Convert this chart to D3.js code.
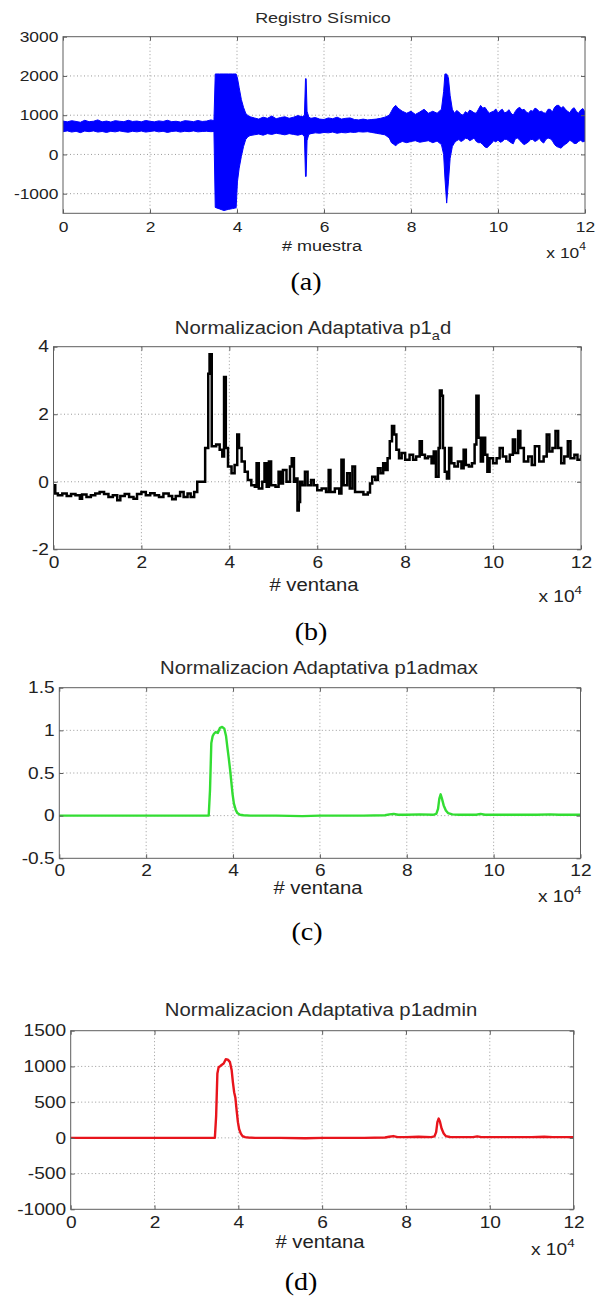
<!DOCTYPE html>
<html><head><meta charset="utf-8">
<script src="https://cdn.jsdelivr.net/npm/d3@7"></script>
<style>body{margin:0;background:#fff} svg{display:block}</style>
</head><body><svg id="c" width="599" height="1299"></svg>
<script>
// ---------- DATA (x in units of 10^4 samples) ----------
const xTicks = [0, 2, 4, 6, 8, 10, 12];
const aYTicks = [-1000, 0, 1000, 2000, 3000];
const bYTicks = [-2, 0, 2, 4];
const cYTicks = [-0.5, 0, 0.5, 1, 1.5];
const dYTicks = [-1000, -500, 0, 500, 1000, 1500];

const titles = ["Registro Sísmico", "Normalizacion Adaptativa p1", "Normalizacion Adaptativa p1admax", "Normalizacion Adaptativa p1admin"];
const xLabels = ["# muestra", "# ventana", "# ventana", "# ventana"];
const captions = ["(a)", "(b)", "(c)", "(d)"];

// (a) seismic record: envelope of the dense oscillation
const aX = [0,0.1,0.2,0.3,0.4,0.5,0.6,0.7,0.8,0.9,1.0,1.1,1.2,1.3,1.4,1.5,1.6,1.7,1.8,1.9,2.0,2.1,2.2,2.3,2.4,2.5,2.6,2.7,2.8,2.9,3.0,3.1,3.2,3.3,3.4,
  3.47,3.5,3.6,3.7,3.8,3.9,3.98,4.01,4.05,4.1,4.15,4.2,4.25,
  4.3,4.4,4.5,4.6,4.7,4.8,4.9,5.0,5.1,5.2,5.3,5.4,5.5,
  5.55,5.575,5.59,5.61,5.65,
  5.7,5.8,5.9,6.0,6.1,6.2,6.3,6.4,6.5,6.6,6.7,6.8,6.9,7.0,7.1,7.2,7.3,7.4,
  7.5,7.55,7.6,7.65,7.7,7.8,7.9,8.0,8.1,8.2,8.3,8.4,8.5,8.6,8.7,
  8.75,8.78,8.82,8.86,8.9,8.95,
  9.0,9.05,9.1,9.15,9.2,9.25,9.3,9.35,9.4,9.45,9.5,9.55,9.6,9.65,9.7,9.75,9.8,9.85,9.9,9.95,
  10.0,10.05,10.1,10.15,10.2,10.25,10.3,10.35,10.4,10.45,10.5,10.55,10.6,10.65,10.7,10.75,10.8,10.85,10.9,10.95,
  11.0,11.05,11.1,11.15,11.2,11.25,11.3,11.35,11.4,11.45,11.5,11.55,11.6,11.65,11.7,11.75,11.8,11.85,11.9,11.95,12.0];
const aHigh = [850,830,860,840,820,870,835,845,880,830,850,825,860,845,835,870,840,850,830,865,845,830,855,840,870,835,845,825,860,850,835,865,840,850,880,
  860,2050,2050,2050,2050,2050,2050,1950,1700,1400,1200,1050,990,
  960,930,900,950,920,980,910,940,960,920,950,990,960,
  1000,1930,1930,1100,950,
  920,940,900,890,930,910,950,900,920,930,890,880,900,880,890,900,920,950,
  1000,1100,1200,1250,1180,1100,1050,1100,1020,1080,1150,1050,1100,1050,1150,
  1600,2050,2050,1950,1500,1150,
  1050,1120,1080,1020,1000,1090,1050,1130,1100,1060,1050,1150,1250,1180,1200,1120,1050,1080,1100,1160,
  1050,1120,1150,1060,1080,1140,1050,1000,1100,1170,1200,1130,1150,1080,1050,1120,1100,1180,1150,1090,
  1100,1060,1050,1150,1150,1080,1200,1250,1250,1180,1220,1150,1100,1060,1150,1190,1100,1050,1130,1170,1080];
const aLow = [580,600,570,590,555,595,580,600,570,585,560,590,575,600,580,565,590,575,595,570,585,600,575,590,560,585,595,570,590,580,600,575,585,590,580,
  585,-1350,-1390,-1430,-1400,-1380,-1360,-700,-350,-50,200,380,450,
  480,500,520,490,530,510,540,520,500,530,510,490,520,
  450,-560,-560,350,510,
  530,550,540,560,550,570,540,560,550,570,560,580,570,580,560,540,520,500,
  420,300,260,220,280,330,300,330,350,310,330,350,300,340,250,
  0,-600,-1240,-700,-100,200,
  300,350,380,330,360,410,400,350,380,420,330,300,300,250,190,170,230,280,350,320,
  370,310,330,390,380,340,300,270,400,420,360,300,250,280,320,380,380,330,360,410,
  330,290,380,420,400,350,250,200,180,160,220,260,300,360,330,280,280,330,360,320,340];

// (b) adaptive normalization p1_a d
const bX = [0,0.04,0.1,0.2,0.3,0.4,0.5,0.6,0.65,0.75,0.85,0.95,1.05,1.15,1.25,1.35,1.45,1.52,1.62,1.72,1.82,1.9,2.0,2.1,2.2,2.3,2.4,2.5,2.62,2.7,2.78,2.88,2.96,3.05,3.12,3.2,
  3.27,3.45,3.52,3.55,3.6,3.7,3.78,3.84,3.88,3.92,3.97,4.05,4.12,4.18,4.22,4.28,4.35,4.42,4.5,4.58,4.62,4.67,4.75,4.8,4.85,4.9,4.95,
  5.05,5.12,5.17,5.22,5.3,5.38,5.42,5.47,5.52,5.55,5.58,5.61,5.66,5.72,5.78,5.86,5.92,6.0,6.1,6.2,6.26,6.3,6.4,6.5,6.55,6.6,6.68,6.74,6.8,6.86,6.95,
  7.05,7.15,7.2,7.25,7.32,7.38,7.44,7.5,7.55,7.6,7.65,7.7,7.75,7.8,7.86,7.92,8.0,8.1,8.18,8.25,8.33,8.38,8.45,8.52,8.6,8.65,8.7,8.76,8.79,8.83,8.86,8.9,8.95,
  9.0,9.05,9.12,9.2,9.28,9.33,9.38,9.45,9.52,9.58,9.62,9.67,9.72,9.77,9.82,9.87,9.92,10.0,10.08,10.15,10.22,10.3,10.38,10.45,10.5,10.57,10.62,10.7,10.8,10.88,10.95,
  11.05,11.15,11.22,11.28,11.35,11.42,11.48,11.55,11.62,11.7,11.76,11.85,11.92,12.0];
const bY = [-0.1,-0.35,-0.4,-0.35,-0.42,-0.36,-0.4,-0.5,-0.38,-0.45,-0.4,-0.35,-0.3,-0.36,-0.45,-0.4,-0.55,-0.42,-0.36,-0.45,-0.5,-0.36,-0.3,-0.4,-0.34,-0.4,-0.45,-0.35,-0.42,-0.52,-0.42,-0.3,-0.45,-0.35,-0.45,-0.3,
  0.0,1.0,3.2,3.78,1.05,1.1,0.95,0.75,3.1,1.0,0.45,0.25,0.5,1.4,1.0,0.6,0.3,0.05,-0.1,-0.15,0.55,-0.2,0.0,0.55,-0.15,0.6,-0.1,
  -0.15,0.3,-0.05,0.35,0.0,0.45,0.7,0.0,0.1,-0.85,-0.6,0.0,-0.1,0.3,-0.1,0.05,-0.1,-0.25,-0.2,-0.3,0.35,-0.3,-0.2,-0.35,0.65,-0.1,0.25,-0.2,0.45,-0.3,-0.3,
  -0.38,-0.32,-0.05,0.15,0.05,0.4,0.25,0.55,0.35,0.7,1.2,1.65,1.4,0.95,0.7,0.85,0.65,0.8,0.65,0.75,1.2,0.8,0.7,0.75,0.55,0.9,0.15,1.0,2.7,2.55,1.0,0.3,0.1,
  1.0,0.55,0.45,0.6,0.4,0.95,0.5,0.45,0.55,1.1,2.55,1.3,0.6,1.3,0.8,0.3,0.7,0.55,0.7,1.0,0.75,0.6,0.8,1.25,0.85,1.5,1.0,0.6,0.75,0.5,1.05,
  0.6,0.75,1.4,0.9,1.0,1.5,1.0,0.55,0.75,1.2,0.7,0.8,0.65,0.8];

// (c) p1admax and (d) p1admin
const cX = [0,1,2,3,3.44,3.47,3.5,3.53,3.56,3.6,3.65,3.7,3.75,3.8,3.84,3.87,3.9,3.93,3.96,3.99,4.02,4.06,4.1,4.16,4.24,4.4,5,5.6,6,7,7.5,7.6,7.7,7.8,8,8.3,8.6,8.68,8.72,8.75,8.78,8.81,8.85,8.9,8.95,9.05,9.2,9.6,9.7,9.8,10.5,11,11.3,11.5,12];
const cY = [0,0,0,0,0,0.3,0.85,0.93,0.96,0.98,0.97,1.03,1.04,1.02,0.93,0.8,0.68,0.55,0.4,0.25,0.14,0.07,0.03,0.01,0.005,0,0,-0.005,0,0,0.005,0.015,0.02,0.01,0.01,0.015,0.01,0.02,0.08,0.2,0.25,0.2,0.12,0.06,0.03,0.015,0.01,0.01,0.02,0.01,0.01,0.01,0.015,0.01,0.01];
const dX = cX;
const dY = [0,0,0,0,0,300,900,990,1000,1020,1040,1100,1095,1060,950,780,640,560,380,220,120,60,25,10,5,0,0,-5,0,0,5,15,25,10,10,15,10,20,80,220,270,230,130,60,25,12,10,10,20,10,10,10,15,10,10];

// ---------- DRAWING ----------
const svg = d3.select("#c");
const SX = 1.16;
const SANS = "'Liberation Sans', Arial, Helvetica, sans-serif";
const SERIF = "'Liberation Serif', 'Times New Roman', serif";
const FRAME = "#5e5e5e";

function label(g, x, y, parts, o) {
  const t = g.append("text")
    .attr("transform", `translate(${x},${y}) scale(${o.sx || SX},1)`)
    .attr("text-anchor", o.anchor || "middle")
    .attr("font-family", o.family || SANS)
    .attr("font-size", o.size)
    .attr("fill", o.fill || "#222");
  parts.forEach(p => {
    const s = t.append("tspan").text(p.t);
    if (p.dy) s.attr("dy", p.dy);
    if (p.size) s.attr("font-size", p.size);
  });
  return t;
}

const panels = [
  {L:63, R:585, T:36.7, B:213.3, yDom:[-1500,3000], yTicks:aYTicks, tick:15, tsize:15.5, titleX:323, titleY:22.5,
   xlX:322, xlY:250.5, expY:257.5, capX:306, capY:290, pad:8},
  {L:53.5, R:581, T:346.7, B:549.3, yDom:[-2,4], yTicks:bYTicks, tick:16.5, tsize:17.5, titleX:313, titleY:334,
   xlX:314, xlY:591, expY:601.5, capX:311, capY:640, pad:7},
  {L:59.3, R:580.5, T:687.7, B:858.3, yDom:[-0.5,1.5], yTicks:cYTicks, tick:16.5, tsize:17.5, titleX:319, titleY:674,
   xlX:318, xlY:893.5, expY:901.5, capX:307, capY:940, pad:6},
  {L:70.7, R:573.6, T:1030.7, B:1209.3, yDom:[-1000,1500], yTicks:dYTicks, tick:16.5, tsize:17.5, titleX:321, titleY:1016,
   xlX:320, xlY:1247.5, expY:1255, capX:301, capY:1290, pad:7}
];

panels.forEach((p, i) => {
  const x = d3.scaleLinear().domain([0, 12]).range([p.L, p.R]);
  const y = d3.scaleLinear().domain(p.yDom).range([p.B, p.T]);
  const g = svg.append("g");

  // grid
  g.selectAll(null).data(xTicks.filter(d => d > 0 && d < 12)).join("line")
    .attr("x1", d => x(d)).attr("x2", d => x(d)).attr("y1", p.T).attr("y2", p.B)
    .attr("stroke", "#9a9a9a").attr("stroke-width", 1).attr("stroke-dasharray", "1,2.5");
  g.selectAll(null).data(p.yTicks.filter(d => d > p.yDom[0] && d < p.yDom[1])).join("line")
    .attr("x1", p.L).attr("x2", p.R).attr("y1", d => y(d)).attr("y2", d => y(d))
    .attr("stroke", "#9a9a9a").attr("stroke-width", 1).attr("stroke-dasharray", "1,2.5");

  // clip
  const cid = "clip" + i;
  svg.append("clipPath").attr("id", cid).append("rect")
    .attr("x", p.L).attr("y", p.T - 1).attr("width", p.R - p.L).attr("height", p.B - p.T + 2);
  const dg = g.append("g").attr("clip-path", `url(#${cid})`);

  if (i === 0) {
    const pts = aX.map((v, k) => ({x: v, hi: aHigh[k], lo: aLow[k]}));
    dg.append("path").datum(pts)
      .attr("d", d3.area().x(d => x(d.x)).y0(d => y(d.lo)).y1(d => y(d.hi)))
      .attr("fill", "#0000ff").attr("stroke", "#0000ff").attr("stroke-width", 1);
  } else if (i === 1) {
    const pts = bX.map((v, k) => ({x: v, y: bY[k]}));
    dg.append("path").datum(pts)
      .attr("d", d3.line().x(d => x(d.x)).y(d => y(d.y)).curve(d3.curveStepAfter))
      .attr("fill", "none").attr("stroke", "#000").attr("stroke-width", 2.5).attr("stroke-linejoin", "miter");
  } else {
    const xs = i === 2 ? cX : dX, ys = i === 2 ? cY : dY;
    const pts = xs.map((v, k) => ({x: v, y: ys[k]}));
    dg.append("path").datum(pts)
      .attr("d", d3.line().x(d => x(d.x)).y(d => y(d.y)))
      .attr("fill", "none").attr("stroke", i === 2 ? "#33dd33" : "#e8141c").attr("stroke-width", 2.4)
      .attr("stroke-linejoin", "round");
  }

  // frame
  g.append("rect").attr("x", p.L).attr("y", p.T).attr("width", p.R - p.L).attr("height", p.B - p.T)
    .attr("fill", "none").attr("stroke", FRAME).attr("stroke-width", 1);

  // axes
  const styleAxis = sel => {
    sel.select(".domain").remove();
    sel.selectAll(".tick line").attr("stroke", FRAME);
    sel.selectAll("text").attr("font-family", SANS).attr("font-size", p.tick).attr("fill", "#222")
      .attr("transform", `scale(${SX},1)`);
  };
  g.append("g").attr("transform", `translate(0,${p.B})`)
    .call(d3.axisBottom(x).tickValues(xTicks).tickSize(-4).tickPadding(p.pad).tickFormat(d => String(d)))
    .call(styleAxis);
  g.append("g").attr("transform", `translate(0,${p.T})`)
    .call(d3.axisTop(x).tickValues(xTicks).tickSize(-4).tickFormat(""))
    .call(styleAxis);
  g.append("g").attr("transform", `translate(${p.L},0)`)
    .call(d3.axisLeft(y).tickValues(p.yTicks).tickSize(-4).tickPadding(4).tickFormat(d => String(d)))
    .call(styleAxis);
  g.append("g").attr("transform", `translate(${p.R},0)`)
    .call(d3.axisRight(y).tickValues(p.yTicks).tickSize(-4).tickFormat(""))
    .call(styleAxis);

  // title
  if (i === 1) {
    label(g, p.titleX, p.titleY, [{t: titles[1]}, {t: "a", dy: 6, size: p.tsize * 0.72}, {t: "d", dy: -6}], {size: p.tsize, fill: "#2a2a2a"});
  } else {
    label(g, p.titleX, p.titleY, [{t: titles[i]}], {size: p.tsize, fill: "#2a2a2a"});
  }
  // x label
  label(g, p.xlX, p.xlY, [{t: xLabels[i]}], {size: p.tsize});
  // exponent
  label(g, p.R + 1, p.expY, [{t: "x 10"}, {t: "4", dy: -8, size: p.tick * 0.7}], {size: p.tick, anchor: "end"});
  // caption
  label(g, p.capX, p.capY, [{t: captions[i]}], {size: 26, family: SERIF, fill: "#000", sx: 1.08});
});
</script>
</body></html>
